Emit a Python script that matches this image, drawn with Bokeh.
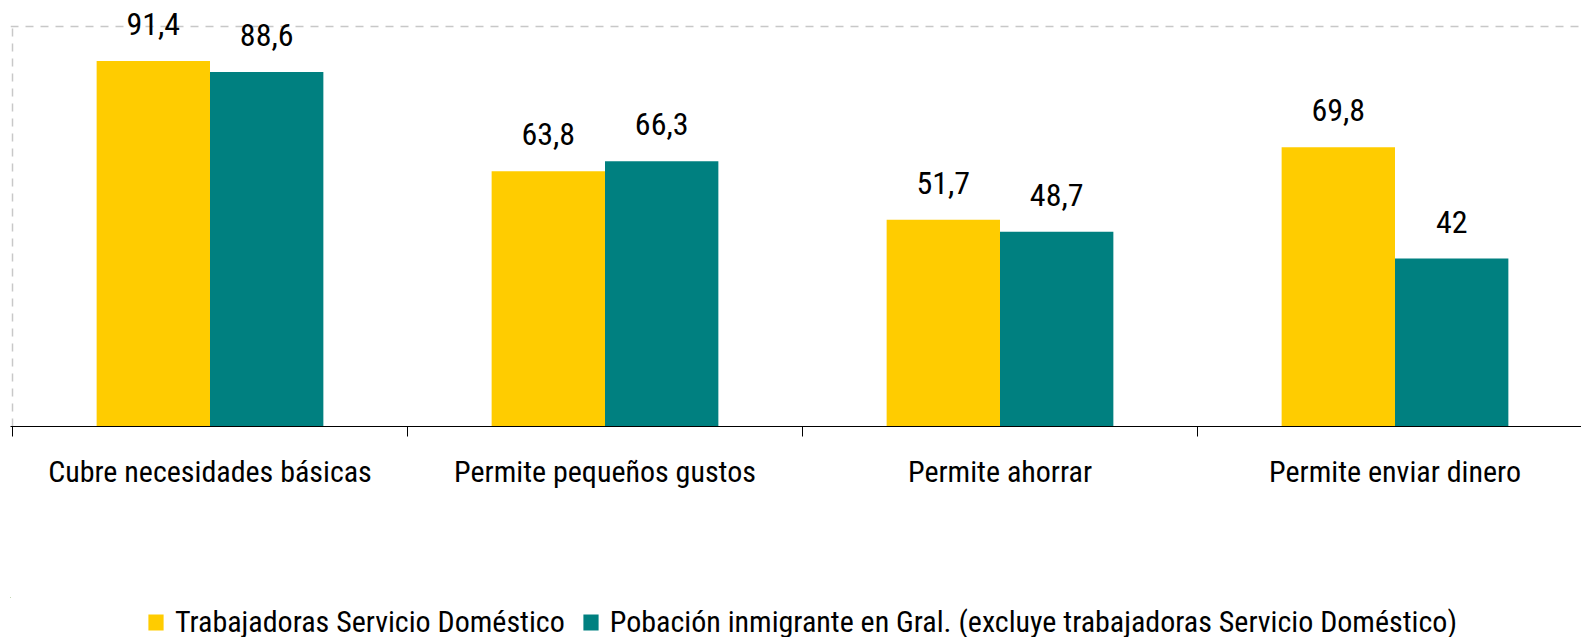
from bokeh.plotting import figure
from bokeh.layouts import column
from bokeh.models import (ColumnDataSource, Range1d, LinearAxis, FixedTicker,
                          LabelSet, Legend, LegendItem, Span)
from bokeh.core.properties import value
from bokeh.embed import file_html
from bokeh.resources import INLINE

categories = ["Cubre necesidades básicas", "Permite pequeños gustos",
              "Permite ahorrar", "Permite enviar dinero"]
series_names = ["Trabajadoras Servicio Doméstico",
                "Pobación inmigrante en Gral. (excluye trabajadoras Servicio Doméstico)"]
domestic = [91.4, 63.8, 51.7, 69.8]
general = [88.6, 66.3, 48.7, 42.0]

FONT = "Roboto Condensed"
YELLOW = "#FFCC00"
TEAL = "#008080"
GRID = "#c8c8c8"

def fmt(v):
    return f"{v:g}".replace(".", ",")

idx = list(range(len(categories)))
centers = [i + 0.5 for i in idx]
off = 0.1435
bw = 0.287

src_a = ColumnDataSource(dict(x=[c - off for c in centers], top=domestic,
                              lab=[fmt(v) for v in domestic]))
src_b = ColumnDataSource(dict(x=[c + off for c in centers], top=general,
                              lab=[fmt(v) for v in general]))

W = 1581
H_MAIN = 597
H_LEG = 40
PX_CAT = 395.0      # pixels per category
FRAME_LEFT = 10     # frame starts here; category axis 0 sits at 12 px
FRAME_H = 426       # frame from top of canvas to x-axis
PX_UNIT = 4.0       # pixels per value unit

p = figure(width=W, height=H_MAIN, output_backend="svg", toolbar_location=None,
           x_range=Range1d(-2 / PX_CAT, (W - FRAME_LEFT - 2) / PX_CAT),
           y_range=Range1d(0, FRAME_H / PX_UNIT),
           x_axis_type=None, y_axis_type=None)
p.min_border_left = FRAME_LEFT
p.min_border_right = 0
p.min_border_top = 0
p.min_border_bottom = H_MAIN - FRAME_H
p.outline_line_color = None
p.xgrid.visible = False
p.ygrid.visible = False
p.background_fill_color = "white"
p.border_fill_color = "white"

# dashed plot-area edges (top at 100, left at category origin)
p.add_layout(Span(location=100, dimension="width", line_color=GRID,
                  line_dash="8 7", line_width=1.5))
p.segment(x0=[0], y0=[0], x1=[0], y1=[100], line_color=GRID,
          line_dash="8 7", line_width=1.5)

ra = p.vbar(x="x", top="top", width=bw, source=src_a, fill_color=YELLOW, line_color=None)
rb = p.vbar(x="x", top="top", width=bw, source=src_b, fill_color=TEAL, line_color=None)

for s in (src_a, src_b):
    p.add_layout(LabelSet(x="x", y="top", text="lab", source=s, y_offset=26,
                          text_align="center", text_baseline="alphabetic",
                          text_font=value(FONT), text_font_size=value("32px"),
                          text_color="#000000"))

xaxis = LinearAxis(ticker=FixedTicker(ticks=centers, minor_ticks=list(range(len(categories) + 1))))
xaxis.major_label_overrides = {c: cat for c, cat in zip(centers, categories)}
xaxis.major_tick_out = 0
xaxis.major_tick_in = 0
xaxis.minor_tick_out = 10
xaxis.minor_tick_in = 0
xaxis.minor_tick_line_color = "#000000"
xaxis.axis_line_color = "#000000"
xaxis.major_label_standoff = 17
xaxis.major_label_text_font = FONT
xaxis.major_label_text_font_size = "30px"
xaxis.major_label_text_color = "#000000"
p.add_layout(xaxis, "below")

# legend strip (proxy renderers lie entirely outside the strip's visible ranges)
p2 = figure(width=W, height=H_LEG, output_backend="svg", toolbar_location=None,
            x_range=Range1d(100, 101), y_range=Range1d(-2000, -1999),
            x_axis_type=None, y_axis_type=None)
p2.min_border = 0
p2.min_border_left = 0
p2.min_border_right = 0
p2.min_border_top = 0
p2.min_border_bottom = 0
p2.outline_line_color = None
p2.xgrid.visible = False
p2.ygrid.visible = False
la = p2.vbar(x="x", top="top", width=0.01, source=src_a, fill_color=YELLOW, line_color=None)
lb = p2.vbar(x="x", top="top", width=0.01, source=src_b, fill_color=TEAL, line_color=None)

legend = Legend(items=[LegendItem(label=series_names[0], renderers=[la]),
                       LegendItem(label=series_names[1], renderers=[lb])],
                orientation="horizontal", location=(136, -2),
                label_text_font=FONT, label_text_font_size="30px",
                label_text_color="#000000", glyph_width=19, glyph_height=20,
                label_standoff=10, spacing=16, padding=0, margin=0,
                border_line_color=None, background_fill_alpha=0)
p2.add_layout(legend, "center")

layout = column(p, p2, spacing=0)
open("out.html", "w").write(file_html(layout, INLINE))
